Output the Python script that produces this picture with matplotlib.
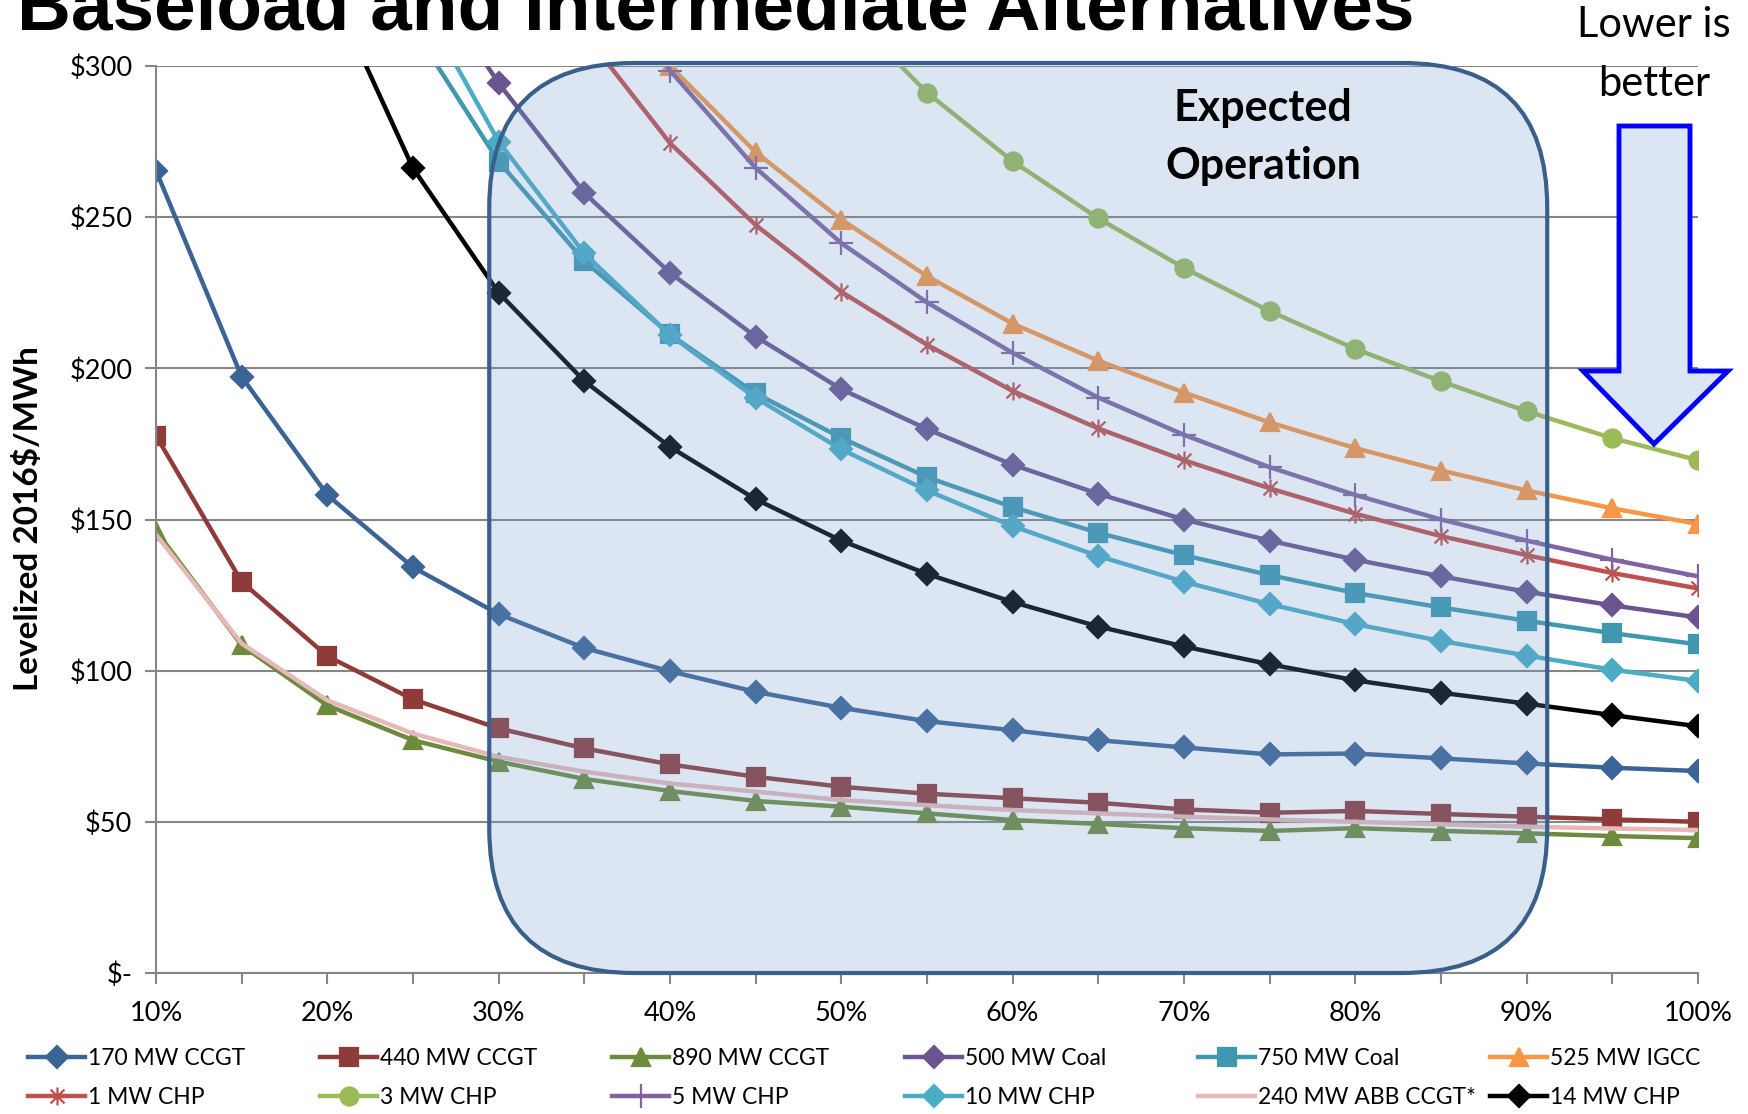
import numpy as np
import matplotlib
matplotlib.use("Agg")
import matplotlib.pyplot as plt
from matplotlib.patches import FancyBboxPatch, Polygon
from matplotlib.path import Path

nan = np.nan

# capacity factor (%)
cap = [10, 15, 20, 25, 30, 35, 40, 45, 50, 55, 60, 65, 70, 75, 80, 85, 90, 95, 100]

# levelized cost, 2016$/MWh (points above $300 are off the chart)
mw170_ccgt = [265.4, 197.2, 158.1, 134.2, 118.7, 107.5, 99.8, 93.0, 87.7, 83.3, 80.3, 77.0, 74.6, 72.3, 72.6, 71.0, 69.3, 67.9, 66.8]
mw440_ccgt = [177.7, 129.4, 104.8, 90.5, 80.9, 74.3, 69.0, 64.9, 61.6, 59.3, 57.8, 56.3, 54.1, 53.0, 53.6, 52.6, 51.7, 50.8, 50.0]
mw890_ccgt = [146.3, 108.4, 88.5, 77.0, 69.9, 64.2, 60.2, 56.9, 55.0, 52.8, 50.6, 49.3, 47.9, 47.0, 47.9, 47.0, 46.2, 45.3, 44.6]
coal500 = [nan, nan, nan, 337, 294.3, 258.0, 231.6, 210.5, 193.1, 179.9, 168.1, 158.5, 150.0, 143.0, 136.7, 131.2, 126.1, 121.6, 117.6]
coal750 = [nan, nan, nan, 312.6, 268.4, 235.5, 211.2, 191.7, 177.0, 164.0, 154.1, 145.6, 138.2, 131.6, 125.7, 120.9, 116.5, 112.4, 108.7]
igcc525 = [nan, nan, nan, nan, nan, 340, 300.0, 271.5, 249.2, 230.5, 214.8, 202.5, 192.0, 182.1, 173.6, 166.2, 159.6, 153.7, 148.5]
chp1 = [nan, nan, nan, nan, nan, 310.8, 274.5, 247.4, 225.3, 207.8, 192.5, 180.1, 169.6, 160.3, 151.9, 144.5, 138.2, 132.3, 127.2]
chp3 = [nan, nan, nan, nan, nan, nan, nan, nan, 320, 291.2, 268.5, 249.6, 233.2, 218.9, 206.4, 195.7, 185.8, 176.9, 169.6]
chp5 = [nan, nan, nan, nan, nan, 345, 298.5, 266.3, 241.4, 221.8, 205.1, 190.3, 178.0, 167.3, 158.1, 150.0, 143.0, 136.7, 131.2]
chp10 = [nan, nan, nan, 325.8, 275.0, 238.0, 211.0, 190.2, 173.2, 159.6, 147.8, 137.9, 129.4, 122.0, 115.4, 109.8, 105.0, 100.3, 96.6]
abb240 = [145.0, 109.0, 90.2, 79.2, 71.5, 66.6, 62.7, 60.0, 57.2, 55.5, 53.9, 52.8, 51.7, 50.8, 50.0, 49.2, 48.4, 47.8, 47.3]
chp14 = [nan, nan, 328, 266.2, 225.0, 195.8, 174.0, 156.7, 143.0, 132.0, 122.7, 114.6, 108.0, 102.1, 96.8, 92.7, 89.1, 85.3, 81.6]

yticks = [0, 50, 100, 150, 200, 250, 300]
ytick_labels = ['$-', '$50', '$100', '$150', '$200', '$250', '$300']

plt.rcParams['font.family'] = ['Lato', 'DejaVu Sans']

W, H = 1748, 1114
fig = plt.figure(figsize=(W / 100, H / 100), dpi=100)
ax = fig.add_axes([156 / W, 1 - 973 / H, (1698 - 156) / W, (973 - 66) / H])

# excel-style asterisk: x with a vertical bar
star = Path([(-1, -1), (1, 1), (-1, 1), (1, -1), (0, -1.3), (0, 1.3)],
            [Path.MOVETO, Path.LINETO, Path.MOVETO, Path.LINETO, Path.MOVETO, Path.LINETO])

series = [
    ('170 MW CCGT', mw170_ccgt, '#3B6496', 'D', 11),
    ('440 MW CCGT', mw440_ccgt, '#8E3B3A', 's', 13),
    ('890 MW CCGT', mw890_ccgt, '#6E8B3D', '^', 13),
    ('500 MW Coal', coal500, '#6A5590', 'D', 11),
    ('750 MW Coal', coal750, '#3F97B0', 's', 13),
    ('525 MW IGCC', igcc525, '#F79646', '^', 13),
    ('1 MW CHP', chp1, '#C0504D', star, 13),
    ('3 MW CHP', chp3, '#9BBB59', 'o', 13),
    ('5 MW CHP', chp5, '#8064A2', '+', 17),
    ('10 MW CHP', chp10, '#4BACC6', 'D', 11),
    ('240 MW ABB CCGT*', abb240, '#E6B9B8', None, 0),
    ('14 MW CHP', chp14, '#000000', 'D', 11),
]

handles = {}
for name, vals, col, mk, ms in series:
    ln, = ax.plot(cap, vals, color=col, lw=3.2, marker=mk, markersize=ms,
                  markeredgewidth=1.6, markeredgecolor=col, markerfacecolor=col,
                  label=name, zorder=2)
    handles[name] = ln

ax.set_xlim(10, 100)
ax.set_ylim(0, 300)
ax.set_yticks(yticks)
ax.set_yticklabels(ytick_labels, fontsize=19.5)
ax.set_xticks(range(10, 101, 5))
ax.set_xticklabels([l if i % 2 == 0 else '' for i, l in enumerate(
    [f'{v}%' for v in range(10, 101, 5)])], fontsize=19.5)
ax.tick_params(axis='both', direction='out', length=8, color='#868686', width=1.5)
ax.tick_params(axis='x', pad=12)
ax.tick_params(axis='y', pad=9)
ax.yaxis.grid(True, color='#868686', lw=1.5)
ax.set_axisbelow(True)
for s in ['top', 'right']:
    ax.spines[s].set_visible(False)
for s in ['left', 'bottom']:
    ax.spines[s].set_color('#868686')
    ax.spines[s].set_linewidth(1.5)

# expected operation box
box = FancyBboxPatch((29.45, 0), 91.2 - 29.45, 301,
                     boxstyle="round,pad=0,rounding_size=8.47", mutation_aspect=5.65,
                     facecolor=(0.45, 0.61, 0.80, 0.25), edgecolor='#3A5F8B',
                     lw=3.0, zorder=3, clip_on=False)
ax.add_patch(box)
ax.text(1263 / W, 1 - 108 / H, 'Expected', transform=fig.transFigure, ha='center',
        va='center', fontsize=31, fontweight='bold', zorder=5)
ax.text(1263 / W, 1 - 166 / H, 'Operation', transform=fig.transFigure, ha='center',
        va='center', fontsize=31, fontweight='bold', zorder=5)

ax.set_ylabel('Levelized 2016$/MWh', fontsize=24, fontweight='bold', va='center')
ax.yaxis.set_label_coords(28 / W, 1 - 519 / H, transform=fig.transFigure)

# title (cut off at the top edge)
fig.text(17 / W, 1 - 29 / H, 'Baseload and Intermediate Alternatives',
         family='Liberation Sans', fontweight='bold', fontsize=53.8, va='baseline', ha='left')

# lower is better arrow
fig.text(1654 / W, 1 - 25 / H, 'Lower is', ha='center', va='center', fontsize=30)
fig.text(1654 / W, 1 - 84 / H, 'better', ha='center', va='center', fontsize=30)
arrow_px = [(1619, 126), (1690, 126), (1690, 371), (1728, 371), (1654, 444),
            (1583, 371), (1619, 371)]
arrow = Polygon([(x / W, 1 - y / H) for x, y in arrow_px], closed=True,
                transform=fig.transFigure, facecolor='#DCE6F2', edgecolor='#0000FF',
                lw=3.5, zorder=6)
fig.patches.append(arrow)

# legend: six columns of two rows
cols = [('170 MW CCGT', '1 MW CHP'), ('440 MW CCGT', '3 MW CHP'),
        ('890 MW CCGT', '5 MW CHP'), ('500 MW Coal', '10 MW CHP'),
        ('750 MW Coal', '240 MW ABB CCGT*'), ('525 MW IGCC', '14 MW CHP')]
col_x = [28, 320, 612, 905, 1198, 1490]
for (a, b), xpx in zip(cols, col_x):
    fig.legend([handles[a], handles[b]], [a, b], loc='center left',
               bbox_to_anchor=(xpx / W, 1 - 1078 / H), frameon=False, fontsize=16.5,
               handlelength=2.5, handletextpad=0.1, borderpad=0, borderaxespad=0,
               labelspacing=0.75, numpoints=1)

fig.savefig('out.png', dpi=100)
